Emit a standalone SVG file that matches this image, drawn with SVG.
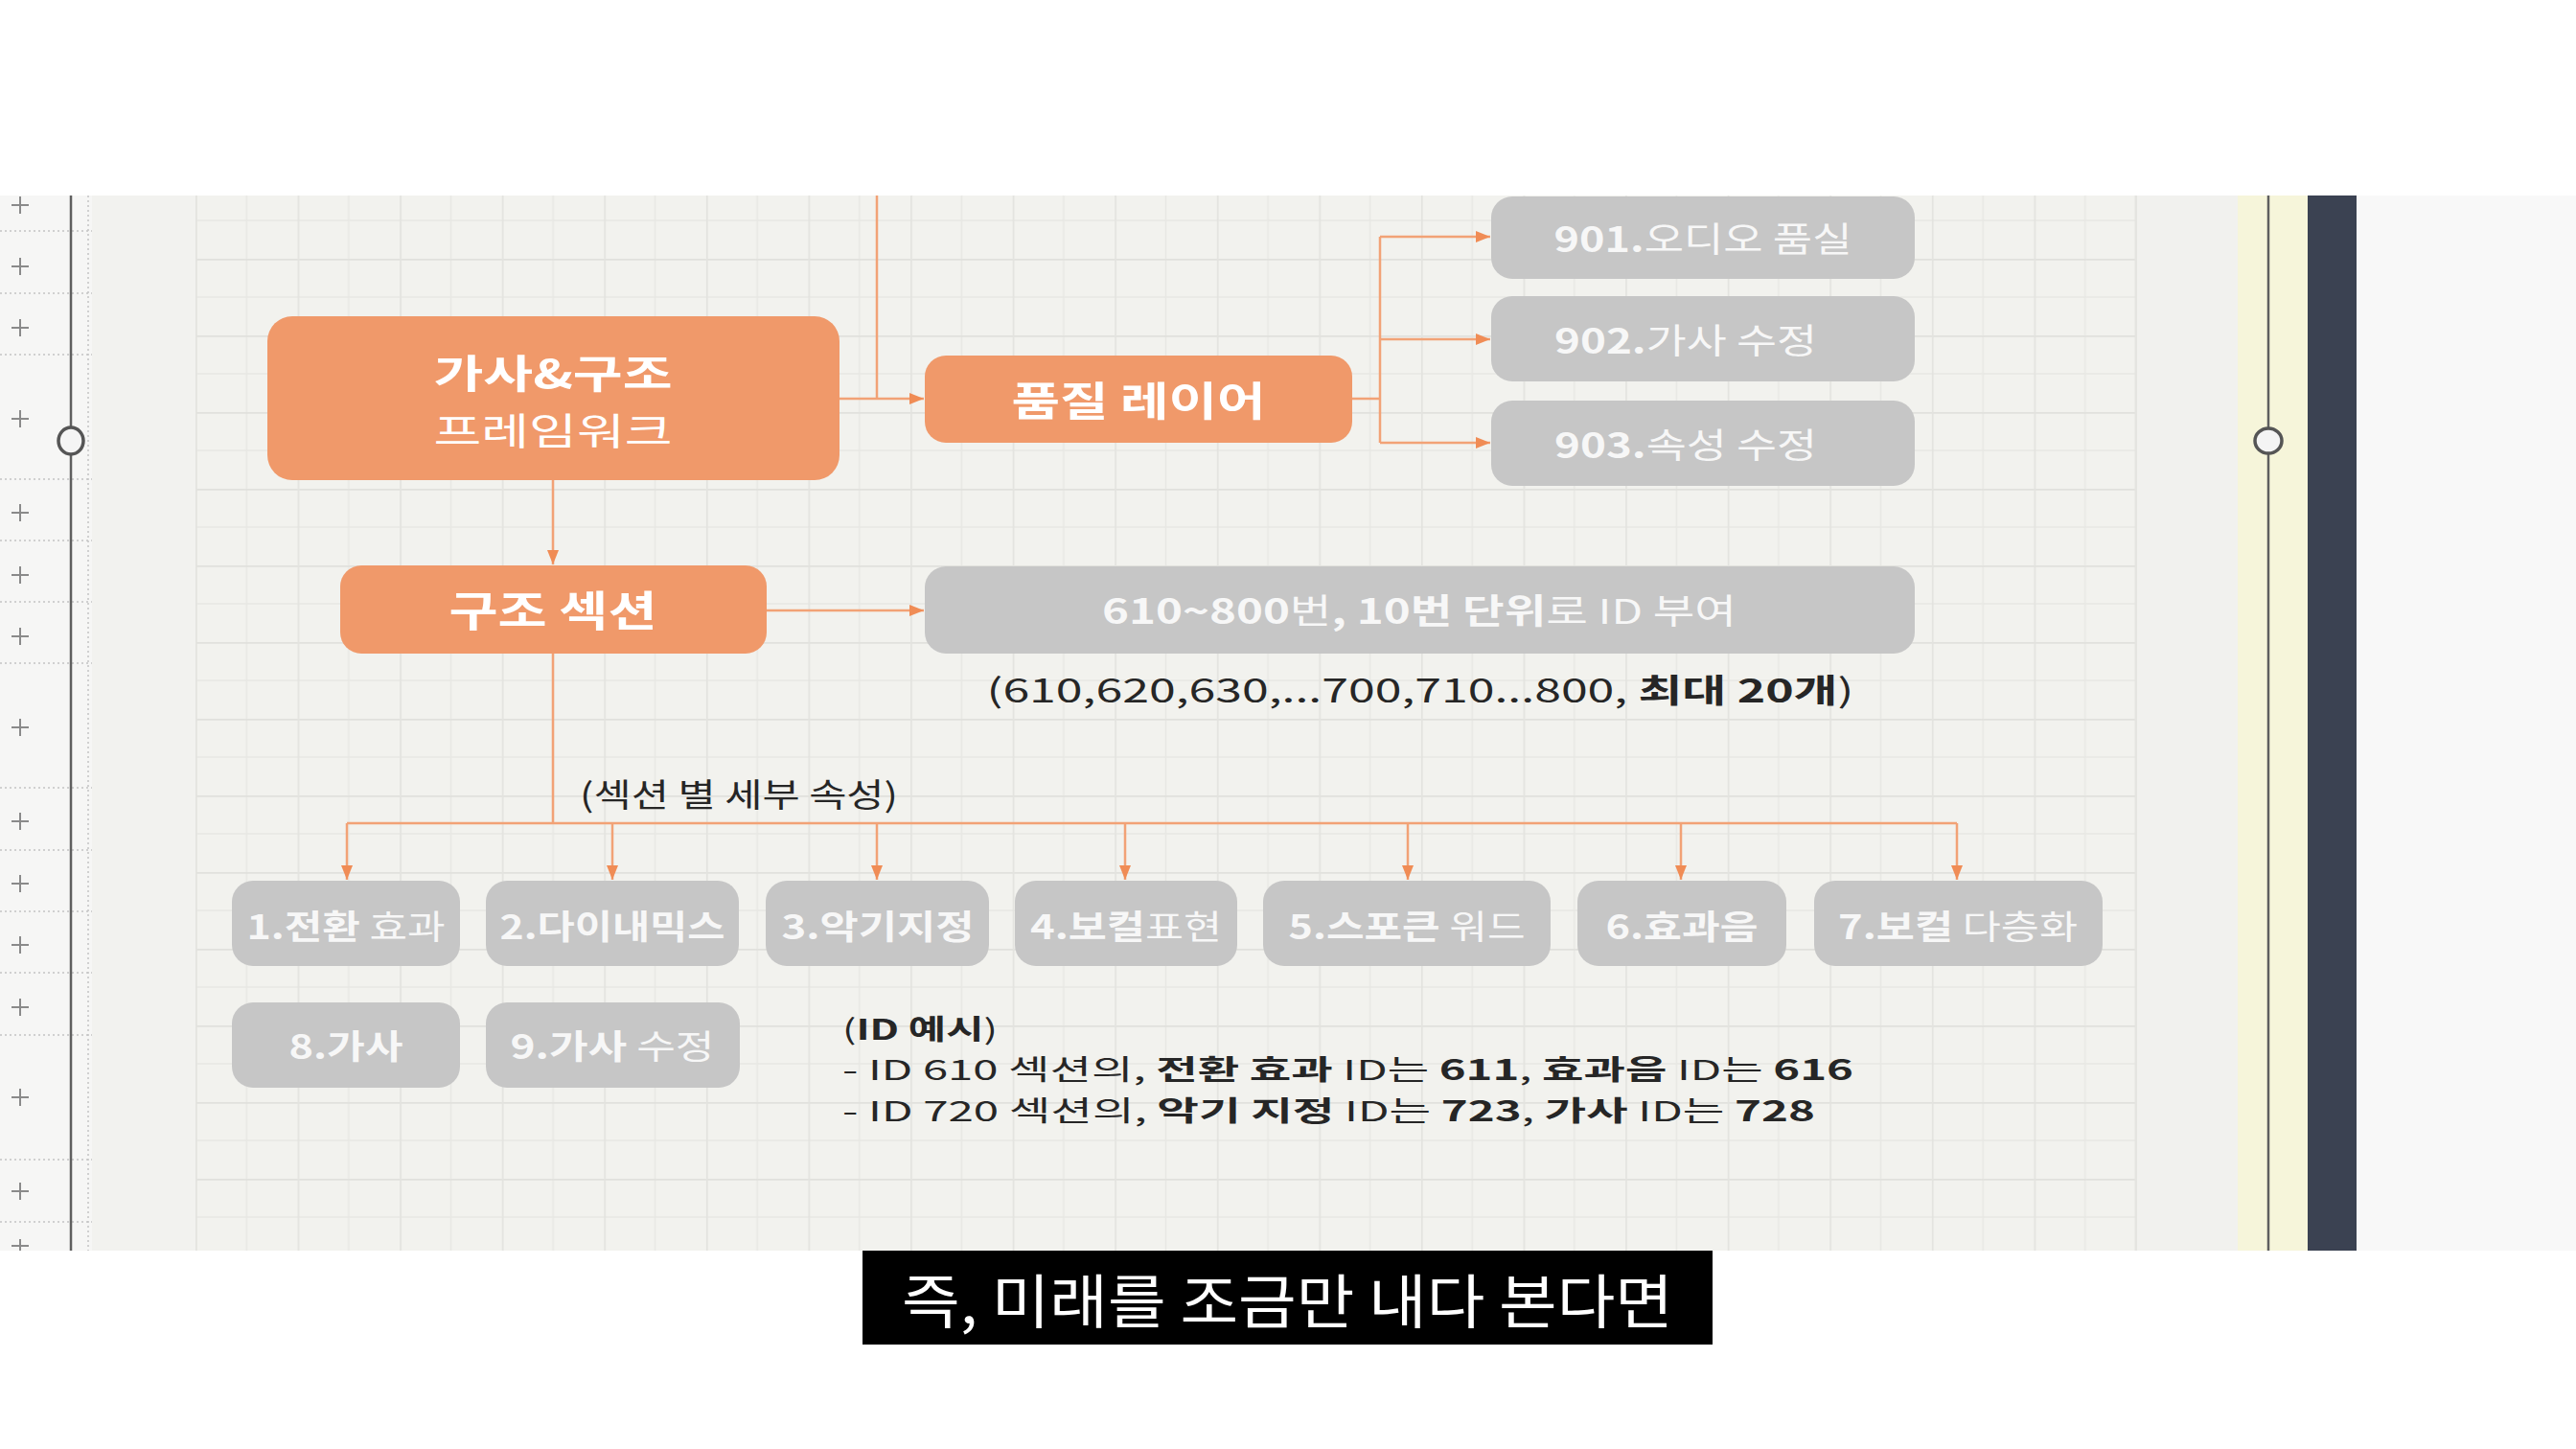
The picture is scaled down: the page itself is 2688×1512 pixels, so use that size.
<svg xmlns="http://www.w3.org/2000/svg" width="2688" height="1512" viewBox="0 0 2688 1512">
<defs>
<style>
.t{font-family:"Noto Sans CJK KR","Noto Sans",sans-serif;text-anchor:middle}
.l{font-family:"Noto Sans CJK KR","Noto Sans",sans-serif;text-anchor:start}
.b{font-weight:700}
.r{font-weight:400}
.wt{fill:#ffffff}
.gt{fill:#f7f7f7}
.dk{fill:#262626}
.orange{fill:#F0996A}
.gray{fill:#C6C6C6}
.conn{fill:none;stroke:#F2A276;stroke-width:2.5}
.plus{stroke:#8a8a8a;stroke-width:2}
.dot{stroke:#c4c4c4;stroke-width:1.5;stroke-dasharray:2 3}
</style>
<marker id="arr" markerUnits="userSpaceOnUse" markerWidth="15" markerHeight="12" refX="15" refY="6" orient="auto">
<path d="M0,0 L15,6 L0,12 z" fill="#F08C55"/>
</marker>
<pattern id="grid" patternUnits="userSpaceOnUse" x="204" y="190" width="106.58" height="80">
<rect x="0" y="0" width="106.58" height="80" fill="#F2F2EE"/>
<line x1="0" y1="40" x2="106.58" y2="40" stroke="#E8E8E4" stroke-width="1.5"/>
<line x1="53.29" y1="0" x2="53.29" y2="80" stroke="#E8E8E4" stroke-width="1.5"/>
<line x1="0" y1="0.8" x2="106.58" y2="0.8" stroke="#E1E1DD" stroke-width="2"/>
<line x1="0.8" y1="0" x2="0.8" y2="80" stroke="#E3E3DF" stroke-width="1.8"/>
</pattern>
</defs>

<g id="background">
<rect x="0" y="0" width="2688" height="1512" fill="#ffffff"/>
<rect x="0" y="204" width="96" height="1101" fill="#F6F6F5"/>
<rect x="96" y="204" width="108" height="1101" fill="#F2F2EF"/>
<rect x="204" y="204" width="2025" height="1101" fill="url(#grid)"/>
<line x1="2229" y1="204" x2="2229" y2="1305" stroke="#E4E4E0" stroke-width="3"/>
<rect x="2230" y="204" width="105" height="1101" fill="#F1F1EE"/>
<rect x="2335" y="204" width="73" height="1101" fill="#F6F5DA"/>
<rect x="2408" y="204" width="51" height="1101" fill="#3B4252"/>
<rect x="2459" y="204" width="229" height="1101" fill="#F8F8F8"/>
</g>

<g id="left-ruler">
<line class="dot" x1="92" y1="204" x2="92" y2="1305"/>
<line class="dot" x1="0" y1="241" x2="96" y2="241"/>
<line class="dot" x1="0" y1="306" x2="96" y2="306"/>
<line class="dot" x1="0" y1="370" x2="96" y2="370"/>
<line class="dot" x1="0" y1="500" x2="96" y2="500"/>
<line class="dot" x1="0" y1="564" x2="96" y2="564"/>
<line class="dot" x1="0" y1="628" x2="96" y2="628"/>
<line class="dot" x1="0" y1="692" x2="96" y2="692"/>
<line class="dot" x1="0" y1="822" x2="96" y2="822"/>
<line class="dot" x1="0" y1="887" x2="96" y2="887"/>
<line class="dot" x1="0" y1="951" x2="96" y2="951"/>
<line class="dot" x1="0" y1="1015" x2="96" y2="1015"/>
<line class="dot" x1="0" y1="1080" x2="96" y2="1080"/>
<line class="dot" x1="0" y1="1210" x2="96" y2="1210"/>
<line class="dot" x1="0" y1="1275" x2="96" y2="1275"/>
<path class="plus" d="M12,214 H30 M21,205 V223 M12,278 H30 M21,269 V287 M12,342 H30 M21,333 V351 M12,437 H30 M21,428 V446 M12,535 H30 M21,526 V544 M12,600 H30 M21,591 V609 M12,664 H30 M21,655 V673 M12,759 H30 M21,750 V768 M12,857 H30 M21,848 V866 M12,922 H30 M21,913 V931 M12,986 H30 M21,977 V995 M12,1051 H30 M21,1042 V1060 M12,1145 H30 M21,1136 V1154 M12,1243 H30 M21,1234 V1252 M12,1300 H30 M21,1293 V1305"/>
<line x1="74" y1="204" x2="74" y2="1305" stroke="#5f5f5f" stroke-width="2.5"/>
<ellipse cx="74" cy="460" rx="13" ry="14" fill="#F4F4F4" stroke="#555" stroke-width="3.5"/>
</g>

<g id="right-handle">
<line x1="2367" y1="204" x2="2367" y2="1305" stroke="#5f5f5f" stroke-width="2.5"/>
<ellipse cx="2367" cy="460" rx="14" ry="13" fill="#F4F4F4" stroke="#555" stroke-width="3.5"/>
</g>

<g id="connectors">
<path class="conn" d="M915,204 V416"/>
<path class="conn" d="M876,416 H964" marker-end="url(#arr)"/>
<path class="conn" d="M577,501 V589" marker-end="url(#arr)"/>
<path class="conn" d="M1411,416 H1440"/>
<path class="conn" d="M1440,247 V462"/>
<path class="conn" d="M1440,247 H1555" marker-end="url(#arr)"/>
<path class="conn" d="M1440,354 H1555" marker-end="url(#arr)"/>
<path class="conn" d="M1440,462 H1555" marker-end="url(#arr)"/>
<path class="conn" d="M800,637 H964" marker-end="url(#arr)"/>
<path class="conn" d="M577,682 V859"/>
<path class="conn" d="M362,859 H2042"/>
<path class="conn" d="M362,859 V918" marker-end="url(#arr)"/>
<path class="conn" d="M639,859 V918" marker-end="url(#arr)"/>
<path class="conn" d="M915,859 V918" marker-end="url(#arr)"/>
<path class="conn" d="M1174,859 V918" marker-end="url(#arr)"/>
<path class="conn" d="M1469,859 V918" marker-end="url(#arr)"/>
<path class="conn" d="M1754,859 V918" marker-end="url(#arr)"/>
<path class="conn" d="M2042,859 V918" marker-end="url(#arr)"/>
</g>

<g id="node-framework">
<rect class="orange" x="279" y="330" width="597" height="171" rx="26"/>
<text class="t b wt" x="577" y="405" font-size="41" textLength="249" lengthAdjust="spacingAndGlyphs">가사&amp;구조</text>
<text class="t r wt" x="577" y="464" font-size="39" textLength="249" lengthAdjust="spacingAndGlyphs">프레임워크</text>
</g>

<g id="node-quality">
<rect class="orange" x="965" y="371" width="446" height="91" rx="22"/>
<text class="t b wt" x="1188" y="434" font-size="42" textLength="265" lengthAdjust="spacingAndGlyphs">품질 레이어</text>
</g>

<g id="node-901">
<rect class="gray" x="1556" y="205" width="442" height="86" rx="22"/>
<text class="t gt" x="1777" y="263" font-size="36" textLength="311" lengthAdjust="spacingAndGlyphs"><tspan class="b">901.</tspan><tspan class="r">오디오 품실</tspan></text>
</g>

<g id="node-902">
<rect class="gray" x="1556" y="309" width="442" height="89" rx="22"/>
<text class="t gt" x="1759" y="369" font-size="36" textLength="274" lengthAdjust="spacingAndGlyphs"><tspan class="b">902.</tspan><tspan class="r">가사 수정</tspan></text>
</g>

<g id="node-903">
<rect class="gray" x="1556" y="418" width="442" height="89" rx="22"/>
<text class="t gt" x="1759" y="478" font-size="36" textLength="274" lengthAdjust="spacingAndGlyphs"><tspan class="b">903.</tspan><tspan class="r">속성 수정</tspan></text>
</g>

<g id="node-structure">
<rect class="orange" x="355" y="590" width="445" height="92" rx="22"/>
<text class="t b wt" x="577" y="654" font-size="44" textLength="217" lengthAdjust="spacingAndGlyphs">구조 섹션</text>
</g>

<g id="node-idrange">
<rect class="gray" x="965" y="591" width="1033" height="91" rx="22"/>
<text class="t gt" x="1481" y="651" font-size="36" textLength="662" lengthAdjust="spacingAndGlyphs"><tspan class="b">610~800</tspan><tspan class="r">번</tspan><tspan class="b">, 10번 단위</tspan><tspan class="r">로 ID 부여</tspan></text>
</g>

<g id="label-idrange">
<text class="t dk r" x="1482" y="733" font-size="34" textLength="905" lengthAdjust="spacingAndGlyphs">(610,620,630,...700,710...800, <tspan class="b">최대 20개</tspan>)</text>
</g>

<g id="label-section">
<text class="t dk r" x="771" y="842" font-size="34" textLength="332" lengthAdjust="spacingAndGlyphs">(섹션 별 세부 속성)</text>
</g>

<g id="node-1">
<rect class="gray" x="242" y="919" width="238" height="89" rx="22"/>
<text class="t gt" x="361" y="980" font-size="35" textLength="207" lengthAdjust="spacingAndGlyphs"><tspan class="b">1.전환</tspan><tspan class="r"> 효과</tspan></text>
</g>
<g id="node-2">
<rect class="gray" x="507" y="919" width="264" height="89" rx="22"/>
<text class="t gt b" x="639" y="980" font-size="35" textLength="235" lengthAdjust="spacingAndGlyphs">2.다이내믹스</text>
</g>
<g id="node-3">
<rect class="gray" x="799" y="919" width="233" height="89" rx="22"/>
<text class="t gt b" x="916" y="980" font-size="35" textLength="201" lengthAdjust="spacingAndGlyphs">3.악기지정</text>
</g>
<g id="node-4">
<rect class="gray" x="1059" y="919" width="232" height="89" rx="22"/>
<text class="t gt" x="1175" y="980" font-size="35" textLength="200" lengthAdjust="spacingAndGlyphs"><tspan class="b">4.보컬</tspan><tspan class="r">표현</tspan></text>
</g>
<g id="node-5">
<rect class="gray" x="1318" y="919" width="300" height="89" rx="22"/>
<text class="t gt" x="1468" y="980" font-size="35" textLength="247" lengthAdjust="spacingAndGlyphs"><tspan class="b">5.스포큰</tspan><tspan class="r"> 워드</tspan></text>
</g>
<g id="node-6">
<rect class="gray" x="1646" y="919" width="218" height="89" rx="22"/>
<text class="t gt b" x="1755" y="980" font-size="35" textLength="159" lengthAdjust="spacingAndGlyphs">6.효과음</text>
</g>
<g id="node-7">
<rect class="gray" x="1893" y="919" width="301" height="89" rx="22"/>
<text class="t gt" x="2043" y="980" font-size="35" textLength="250" lengthAdjust="spacingAndGlyphs"><tspan class="b">7.보컬</tspan><tspan class="r"> 다층화</tspan></text>
</g>
<g id="node-8">
<rect class="gray" x="242" y="1046" width="238" height="89" rx="22"/>
<text class="t gt b" x="361" y="1105" font-size="35" textLength="119" lengthAdjust="spacingAndGlyphs">8.가사</text>
</g>
<g id="node-9">
<rect class="gray" x="507" y="1046" width="265" height="89" rx="22"/>
<text class="t gt" x="639" y="1105" font-size="35" textLength="213" lengthAdjust="spacingAndGlyphs"><tspan class="b">9.가사</tspan><tspan class="r"> 수정</tspan></text>
</g>

<g id="id-example">
<text class="l dk r" x="879" y="1085" font-size="29" textLength="162" lengthAdjust="spacingAndGlyphs">(<tspan class="b">ID 예시</tspan>)</text>
<text class="l dk r" x="879" y="1127" font-size="29" textLength="1055" lengthAdjust="spacingAndGlyphs">- ID 610 섹션의, <tspan class="b">전환 효과</tspan> ID는 <tspan class="b">611</tspan>, <tspan class="b">효과음</tspan> ID는 <tspan class="b">616</tspan></text>
<text class="l dk r" x="879" y="1170" font-size="29" textLength="1015" lengthAdjust="spacingAndGlyphs">- ID 720 섹션의, <tspan class="b">악기 지정</tspan> ID는 <tspan class="b">723</tspan>, <tspan class="b">가사</tspan> ID는 <tspan class="b">728</tspan></text>
</g>

<g id="subtitle">
<rect x="900" y="1305" width="887" height="98" fill="#000000"/>
<text class="l r" x="941" y="1381" font-size="61" fill="#ffffff" textLength="805" lengthAdjust="spacingAndGlyphs">즉, 미래를 조금만 내다 본다면</text>
</g>
</svg>
